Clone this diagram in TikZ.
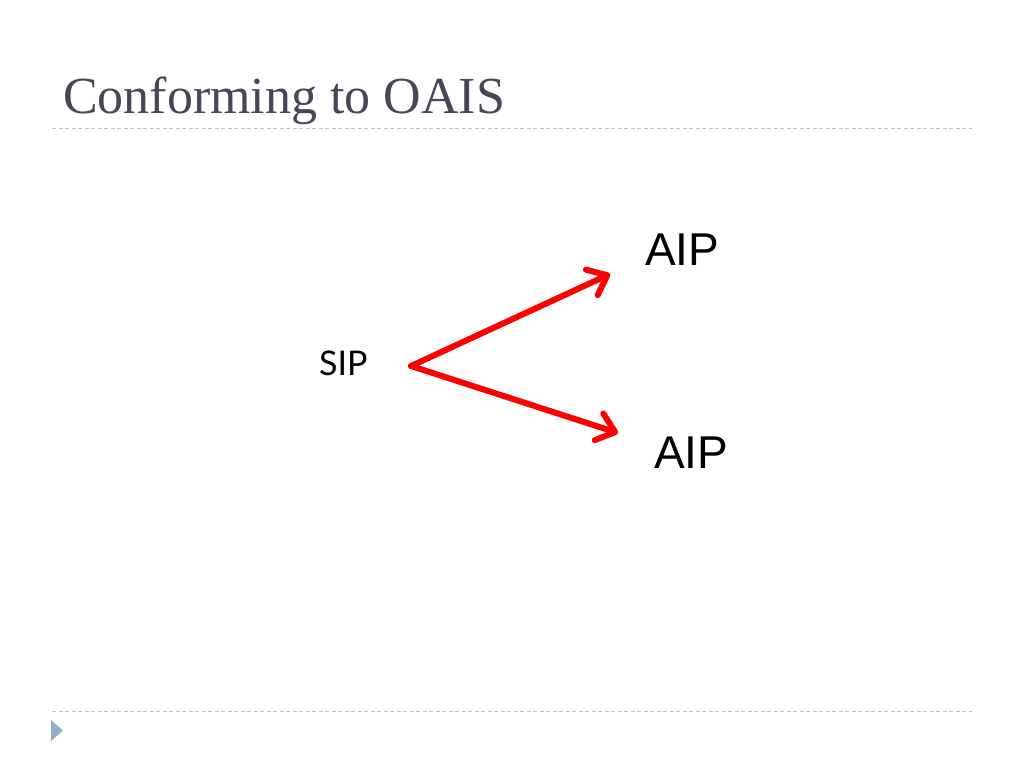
\documentclass[tikz,border=0pt]{standalone}
\usepackage{fontspec}
\setmainfont{Liberation Serif}
\newfontfamily\sipfont{Lato}
\newfontfamily\aipfont{Liberation Sans}
\usetikzlibrary{arrows.meta}
\definecolor{titlegray}{HTML}{474757}
\definecolor{rulegray}{HTML}{BCC4CE}
\definecolor{tri}{HTML}{94AEC9}
\definecolor{arrowred}{HTML}{FF0000}
\tikzset{
  rulestyle/.style={draw=rulegray, line width=1pt, dash pattern=on 4pt off 2.5pt},
  redarrow/.style={draw=arrowred, line width=6pt, line cap=round, line join=round,
    -{Straight Barb[length=17pt,width=28pt,line cap=round,line join=round]}},
  txt/.style={inner sep=0pt, anchor=base west}
}
\begin{document}
\begin{tikzpicture}[x=1pt,y=-1pt]
\useasboundingbox[fill=white] (0,0) rectangle (1024,768);
\node[txt, text=titlegray, font=\fontsize{52}{60}\selectfont] (title) at (63,113) {Conforming to OAIS};
\coordinate (r1a) at (52,128); \coordinate (r1b) at (972,128);
\coordinate (r2a) at (52,711); \coordinate (r2b) at (972,711);
\draw[rulestyle] (r1a) -- (r1b);
\draw[rulestyle] (r2a) -- (r2b);
\fill[tri] (51,720) -- (63,730.5) -- (51,741) -- cycle;
\node[txt, font=\sipfont\fontsize{34}{40}\selectfont] (sip) at (319,375) {SIP};
\node[txt, font=\aipfont\fontsize{46}{54}\selectfont] (aip1) at (645,265) {AIP};
\node[txt, font=\aipfont\fontsize{46}{54}\selectfont] (aip2) at (654,468) {AIP};
\coordinate (start) at (411,366);
\coordinate (tip1) at (610,274);
\coordinate (tip2) at (618,433);
\draw[redarrow] (start) -- (tip1);
\draw[redarrow] (start) -- (tip2);
\end{tikzpicture}
\end{document}
